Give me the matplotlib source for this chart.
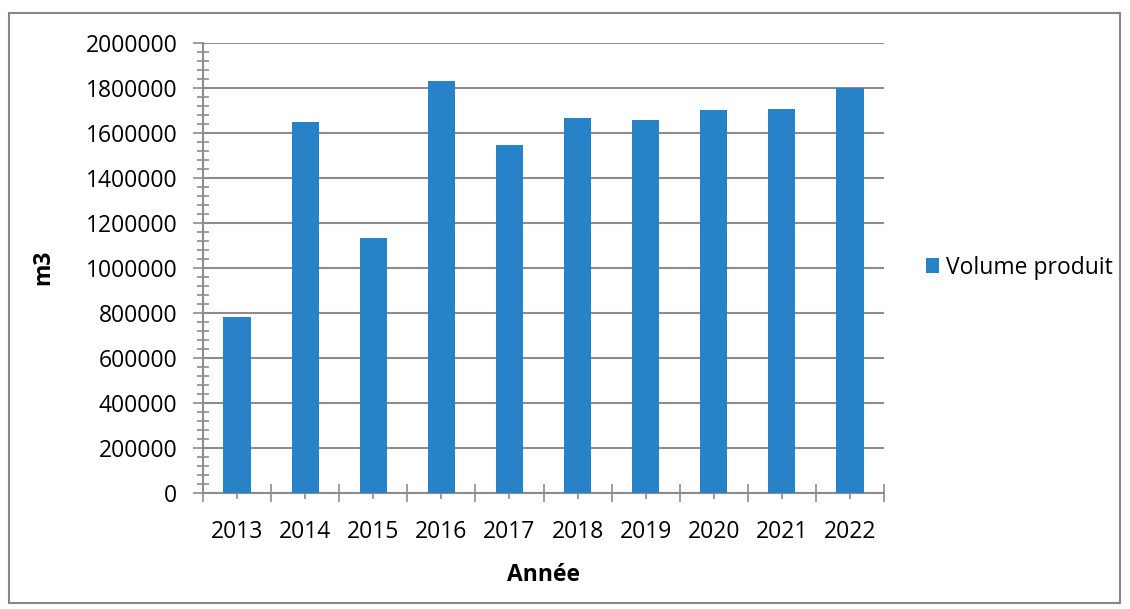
"""Volume produit par année (m3) - bar chart."""

import matplotlib
matplotlib.use("Agg")
import matplotlib.pyplot as plt
from matplotlib.patches import Rectangle
from matplotlib.ticker import MultipleLocator, FixedLocator, StrMethodFormatter

years = ["2013", "2014", "2015", "2016", "2017", "2018", "2019", "2020", "2021", "2022"]
volume = [780000, 1649000, 1133000, 1831000, 1545000, 1666000, 1656000, 1703000, 1707000, 1797000]
series_name = "Volume produit"

BAR_COLOR = "#2882C8"
GRID_COLOR = "#8C8C8C"
FS = 16.5

plt.rcParams["font.family"] = ["Open Sans", "DejaVu Sans"]

fig = plt.figure(figsize=(11.3, 6.09), dpi=100)
ax = fig.add_axes([203 / 1130, 1 - 492.7 / 609, 681 / 1130, 450 / 609])

x = list(range(len(years)))
ax.bar(x, volume, width=0.4, color=BAR_COLOR, label=series_name, zorder=3)

ax.set_xlim(-0.5, len(years) - 0.5)
ax.set_ylim(0, 2000000)

# y axis: majors every 200000, 4 minor ticks between
ax.yaxis.set_major_locator(MultipleLocator(200000))
ax.yaxis.set_minor_locator(MultipleLocator(40000))
ax.yaxis.set_major_formatter(StrMethodFormatter("{x:.0f}"))
ax.grid(axis="y", color=GRID_COLOR, linewidth=1.5, zorder=0)
ax.tick_params(axis="y", which="major", direction="out", length=7.5, width=1.2,
               color=GRID_COLOR, labelsize=FS, pad=11)
ax.tick_params(axis="y", which="minor", direction="inout", length=8, width=1.2,
               color=GRID_COLOR)

# x axis: labels at centres, longer ticks at category boundaries
ax.set_xticks(x)
ax.set_xticklabels(years)
ax.xaxis.set_minor_locator(FixedLocator([i - 0.5 for i in range(len(years) + 1)]))
ax.tick_params(axis="x", which="major", direction="inout", length=9, width=1.2,
               color=GRID_COLOR, labelsize=FS, pad=15)
ax.tick_params(axis="x", which="minor", direction="inout", length=13, width=1.2,
               color=GRID_COLOR)

for side in ("top", "right"):
    ax.spines[side].set_visible(False)
for side in ("left", "bottom"):
    ax.spines[side].set_color(GRID_COLOR)
    ax.spines[side].set_linewidth(1.5)

ax.set_xlabel("Année", fontsize=FS, fontweight="bold", labelpad=14)
ax.set_ylabel("m3", fontsize=FS, fontweight="bold", labelpad=22)

ax.legend(loc="center left", bbox_to_anchor=(1.031, 0.5), frameon=False,
          fontsize=FS, handlelength=0.6, handleheight=0.6, handletextpad=0.3)

# outer chart border
fig.patches.append(Rectangle((9 / 1130, 1 - 603 / 609), 1111 / 1130, 590 / 609,
                             transform=fig.transFigure, fill=False,
                             edgecolor="#878787", linewidth=1.5))

fig.savefig("out.png", dpi=100)
